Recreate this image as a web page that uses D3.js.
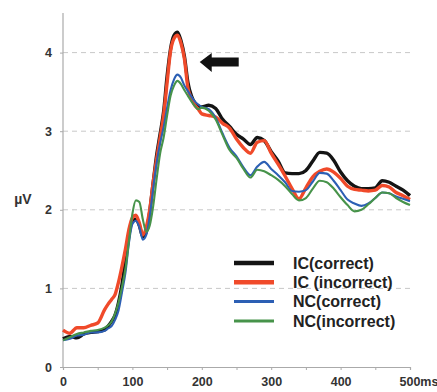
<!DOCTYPE html>
<html>
<head>
<meta charset="utf-8">
<script src="https://cdn.jsdelivr.net/npm/d3@7"></script>
<style>
  body { margin: 0; background: #fff; }
  svg { display: block; font-family: "Liberation Sans", Arial, sans-serif; }
</style>
</head>
<body>
<div id="chart"></div>
<script>
// time points (ms)
const times = [0, 10, 20, 30, 40, 50, 60, 65, 70, 75, 80, 85, 90, 95, 100, 105, 110, 115, 120, 125,
  130, 135, 140, 145, 150, 155, 160, 165, 170, 175, 180, 185, 190, 195, 200, 210, 220, 230, 240, 250,
  260, 270, 280, 290, 300, 310, 320, 330, 340, 350, 360, 370, 380, 390, 400, 410, 420, 430, 440, 450,
  460, 470, 480, 490, 500];

// amplitudes (µV)
const icCorrect = [0.36, 0.39, 0.37, 0.42, 0.44, 0.45, 0.47, 0.52, 0.58, 0.66, 0.82, 1.05, 1.36, 1.68, 1.86, 1.88, 1.80, 1.66, 1.72, 1.98,
  2.35, 2.70, 2.97, 3.25, 3.70, 4.05, 4.22, 4.26, 4.15, 3.95, 3.62, 3.45, 3.36, 3.32, 3.31, 3.33, 3.29, 3.15, 3.06, 2.96,
  2.90, 2.83, 2.92, 2.88, 2.74, 2.62, 2.47, 2.46, 2.46, 2.50, 2.62, 2.73, 2.72, 2.63, 2.48, 2.37, 2.30, 2.27, 2.27, 2.28,
  2.37, 2.35, 2.30, 2.25, 2.18];
const icIncorrect = [0.47, 0.43, 0.50, 0.50, 0.53, 0.56, 0.73, 0.80, 0.86, 0.92, 1.08, 1.28, 1.50, 1.75, 1.90, 1.93, 1.83, 1.68, 1.78, 2.00,
  2.35, 2.65, 2.92, 3.20, 3.62, 4.02, 4.18, 4.22, 4.12, 3.92, 3.55, 3.42, 3.33, 3.28, 3.22, 3.20, 3.18, 3.10, 3.04, 2.90,
  2.79, 2.72, 2.86, 2.88, 2.72, 2.58, 2.43, 2.27, 2.14, 2.28, 2.42, 2.49, 2.52, 2.48, 2.40, 2.30, 2.26, 2.25, 2.24, 2.25,
  2.31, 2.29, 2.22, 2.18, 2.13];
const ncCorrect = [0.34, 0.36, 0.40, 0.41, 0.44, 0.44, 0.46, 0.49, 0.52, 0.60, 0.72, 0.95, 1.20, 1.58, 1.82, 1.86, 1.78, 1.62, 1.68, 1.92,
  2.28, 2.60, 2.85, 3.05, 3.30, 3.52, 3.66, 3.72, 3.68, 3.58, 3.51, 3.44, 3.38, 3.34, 3.31, 3.28, 3.17, 2.97, 2.79, 2.68,
  2.54, 2.44, 2.55, 2.61, 2.52, 2.44, 2.35, 2.24, 2.23, 2.25, 2.36, 2.47, 2.46, 2.37, 2.25, 2.13, 2.08, 2.05, 2.08, 2.15,
  2.22, 2.21, 2.17, 2.14, 2.11];
const ncIncorrect = [0.34, 0.38, 0.42, 0.44, 0.46, 0.47, 0.50, 0.53, 0.58, 0.68, 0.82, 1.02, 1.25, 1.60, 1.95, 2.12, 2.10, 1.88, 1.72, 1.80,
  2.05, 2.40, 2.72, 2.92, 3.20, 3.45, 3.58, 3.64, 3.60, 3.52, 3.45, 3.38, 3.32, 3.28, 3.30, 3.26, 3.15, 2.95, 2.76, 2.66,
  2.52, 2.41, 2.51, 2.49, 2.44, 2.38, 2.30, 2.20, 2.12, 2.15, 2.27, 2.37, 2.35, 2.27, 2.16, 2.06, 1.98, 2.00, 2.07, 2.15,
  2.22, 2.21, 2.15, 2.10, 2.06];

const seriesNames = ["IC(correct)", "IC (incorrect)", "NC(correct)", "NC(incorrect)"];
const xTicks = [0, 100, 200, 300, 400, 500];
const yTicks = [0, 1, 2, 3, 4];

const width = 437, height = 392;
const margin = { top: 13, right: 27, bottom: 25, left: 63 };

const series = [
  { name: seriesNames[0], values: icCorrect, color: "#141414", w: 3.4 },
  { name: seriesNames[1], values: icIncorrect, color: "#f04a2a", w: 3.4 },
  { name: seriesNames[2], values: ncCorrect, color: "#2c5fb4", w: 2.1 },
  { name: seriesNames[3], values: ncIncorrect, color: "#47934a", w: 2.1 }
];

const svg = d3.select("#chart").append("svg")
  .attr("width", width).attr("height", height);

const x = d3.scaleLinear().domain([0, 500]).range([margin.left, width - margin.right]);
const y = d3.scaleLinear().domain([0, 4]).range([height - margin.bottom, height - margin.bottom - 314.4]);

// Grid lines
svg.append("g").selectAll("line")
  .data(yTicks.filter(d => d > 0)).enter().append("line")
  .attr("x1", x(0)).attr("x2", x(500) + 3)
  .attr("y1", d => y(d)).attr("y2", d => y(d))
  .attr("stroke", "#c8c8c8").attr("stroke-width", 1)
  .attr("stroke-dasharray", "5,4");

// Axes
const xAxis = svg.append("g").attr("transform", `translate(0,${y(0)})`)
  .call(d3.axisBottom(x).tickValues(d3.range(0, 501, 50)).tickSize(3)
    .tickFormat(d => xTicks.includes(d) ? (d === 500 ? "500ms" : d) : ""));
xAxis.select(".domain").attr("stroke", "#aaa").attr("stroke-width", 1.2);
xAxis.selectAll(".tick line").attr("stroke", "#aaa");
xAxis.selectAll(".tick text")
  .attr("dy", "1.05em")
  .style("font-size", "12.5px").style("font-weight", "bold").attr("fill", "#333");
xAxis.selectAll(".tick text").filter(d => d === 500)
  .attr("text-anchor", "start").attr("x", -11);

const yAxis = svg.append("g").attr("transform", `translate(${x(0)},0)`)
  .call(d3.axisLeft(y).tickValues(yTicks).tickSize(3).tickPadding(8).tickFormat(d3.format("d")));
yAxis.select(".domain").attr("stroke", "#aaa").attr("stroke-width", 1.2)
  .attr("d", `M0,${y(0)}V${margin.top}`);
yAxis.selectAll(".tick line").attr("stroke", "#aaa");
yAxis.selectAll(".tick text")
  .style("font-size", "12.5px").style("font-weight", "bold").attr("fill", "#333");

svg.append("text")
  .attr("x", 23).attr("y", y(2.13))
  .attr("text-anchor", "middle").attr("dy", "0.35em")
  .style("font-size", "14px").style("font-weight", "bold").attr("fill", "#333")
  .text("µV");

// Lines
const line = d3.line()
  .x((d, i) => x(times[i]))
  .y(d => y(d))
  .curve(d3.curveMonotoneX);

svg.append("g").selectAll("path")
  .data(series).enter().append("path")
  .attr("fill", "none")
  .attr("stroke", d => d.color)
  .attr("stroke-width", d => d.w)
  .attr("stroke-linejoin", "round")
  .attr("d", d => line(d.values));

// Arrow pointing at the peak
const ax = x(197), ay = y(3.88);
svg.append("path")
  .attr("d", `M${ax},${ay} L${ax + 12},${ay - 9} L${ax + 12},${ay - 4.5} L${ax + 39},${ay - 4.5} L${ax + 39},${ay + 4.5} L${ax + 12},${ay + 4.5} L${ax + 12},${ay + 10} Z`)
  .attr("fill", "#111");

// Legend
const legend = svg.append("g").attr("transform", "translate(234,263)");
const rows = legend.selectAll("g").data(series).enter().append("g")
  .attr("transform", (d, i) => `translate(0,${i * 19.3})`);
rows.append("line")
  .attr("x1", 0).attr("x2", 40)
  .attr("stroke", d => d.color)
  .attr("stroke-width", (d, i) => i < 2 ? 4.5 : 3);
rows.append("text")
  .attr("x", 59).attr("dy", "0.36em")
  .style("font-size", "16px").style("font-weight", "bold").attr("fill", "#222")
  .text(d => d.name);
</script>
</body>
</html>
